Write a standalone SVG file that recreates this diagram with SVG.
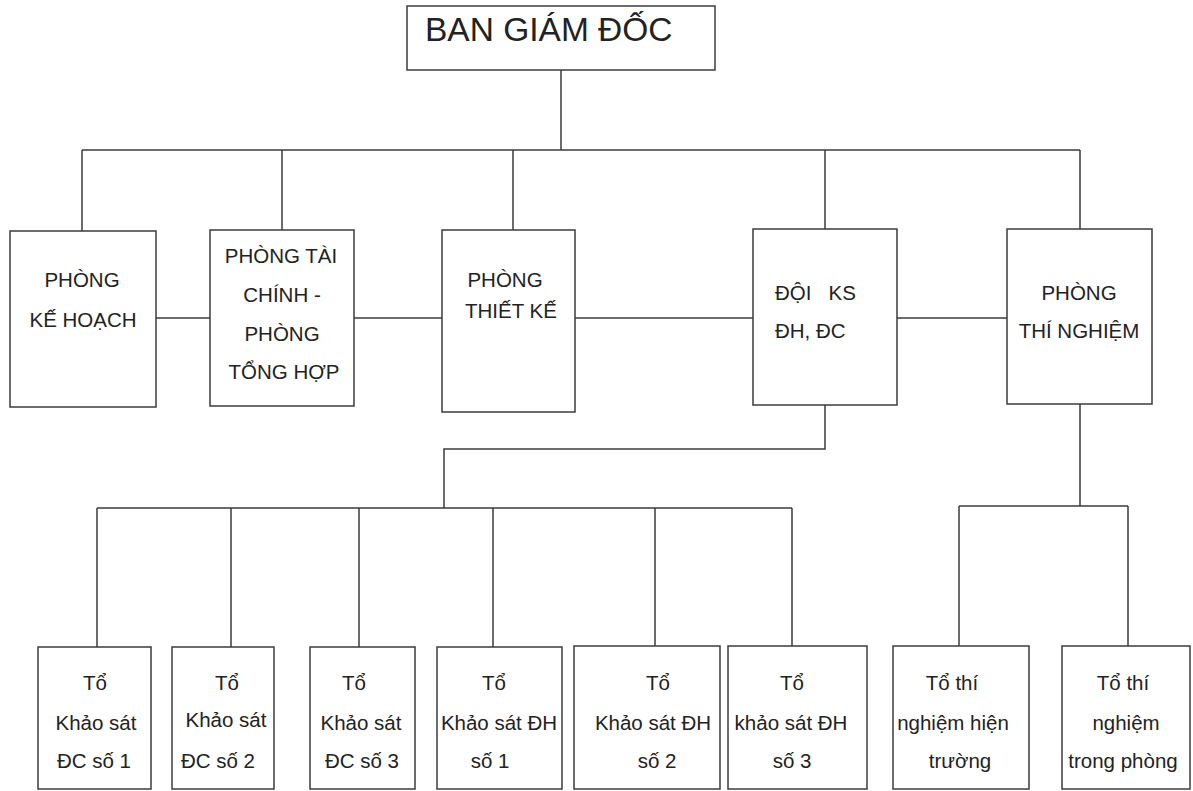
<svg xmlns="http://www.w3.org/2000/svg" width="1193" height="791" viewBox="0 0 1193 791">
<style>
.box{fill:#fff;stroke:#3c3c3c;stroke-width:1.5}
.ln{fill:none;stroke:#3c3c3c;stroke-width:1.5}
text{font-family:"Liberation Sans",Arial,sans-serif;fill:#222;font-size:20.5px;text-anchor:middle}
.big{font-size:33.5px;text-anchor:start}
.l{text-anchor:start}
</style>
<rect width="1193" height="791" fill="#fff"/>
<g id="connectors">
<path class="ln" d="M561 70V150M82 150H1080M82 150V231M282 150V230M513 150V230M825 150V229M1080 150V229"/>
<path class="ln" d="M156 318H210M354 318H442M575 318H753M897 318H1007"/>
<path class="ln" d="M825 405V449H444V508M97 508H792M97 508V647M231 508V647M359 508V647M493 508V647M655 508V646M792 508V646"/>
<path class="ln" d="M1080 404V506M959 506H1128M959 506V646M1128 506V646"/>
</g>
<g id="bgd"><rect class="box" x="407" y="6" width="308" height="64"/><text class="big" x="425" y="41">BAN GIÁM ĐỐC</text></g>
<g id="kehoach"><rect class="box" x="10" y="231" width="146" height="176"/><text x="82" y="287">PHÒNG</text><text x="83" y="327">KẾ HOẠCH</text></g>
<g id="taichinh"><rect class="box" x="210" y="230" width="144" height="176"/><text x="281" y="263">PHÒNG TÀI</text><text x="282" y="302">CHÍNH -</text><text x="282" y="341">PHÒNG</text><text x="284" y="379">TỔNG HỢP</text></g>
<g id="thietke"><rect class="box" x="442" y="230" width="133" height="182"/><text x="505" y="287">PHÒNG</text><text x="511" y="318">THIẾT KẾ</text></g>
<g id="doiks"><rect class="box" x="753" y="229" width="144" height="176"/><text class="l" x="775" y="300" xml:space="preserve">ĐỘI   KS</text><text class="l" x="775" y="338">ĐH, ĐC</text></g>
<g id="thinghiem"><rect class="box" x="1007" y="229" width="145" height="175"/><text x="1079" y="300">PHÒNG</text><text x="1079" y="338">THÍ NGHIỆM</text></g>
<g id="dc1"><rect class="box" x="38" y="647" width="113" height="142"/><text x="95" y="690">Tổ</text><text x="96" y="730">Khảo sát</text><text x="94" y="768">ĐC số 1</text></g>
<g id="dc2"><rect class="box" x="172" y="647" width="102" height="142"/><text x="227" y="690">Tổ</text><text x="226" y="727">Khảo sát</text><text x="218" y="768">ĐC số 2</text></g>
<g id="dc3"><rect class="box" x="310" y="647" width="105" height="142"/><text x="354" y="690">Tổ</text><text x="361" y="730">Khảo sát</text><text x="362" y="768">ĐC số 3</text></g>
<g id="dh1"><rect class="box" x="437" y="647" width="125" height="142"/><text x="494" y="690">Tổ</text><text x="499" y="730">Khảo sát ĐH</text><text x="490" y="768">số 1</text></g>
<g id="dh2"><rect class="box" x="574" y="646" width="146" height="143"/><text x="658" y="690">Tổ</text><text x="653" y="730">Khảo sát ĐH</text><text x="657" y="768">số 2</text></g>
<g id="dh3"><rect class="box" x="728" y="646" width="139" height="143"/><text x="792" y="690">Tổ</text><text x="791" y="730">khảo sát ĐH</text><text x="792" y="768">số 3</text></g>
<g id="tnht"><rect class="box" x="893" y="646" width="136" height="143"/><text x="952" y="690">Tổ thí</text><text x="953" y="730">nghiệm hiện</text><text x="960" y="768">trường</text></g>
<g id="tntp"><rect class="box" x="1062" y="646" width="128" height="143"/><text x="1123" y="690">Tổ thí</text><text x="1126" y="730">nghiệm</text><text x="1123" y="768">trong phòng</text></g>
</svg>
